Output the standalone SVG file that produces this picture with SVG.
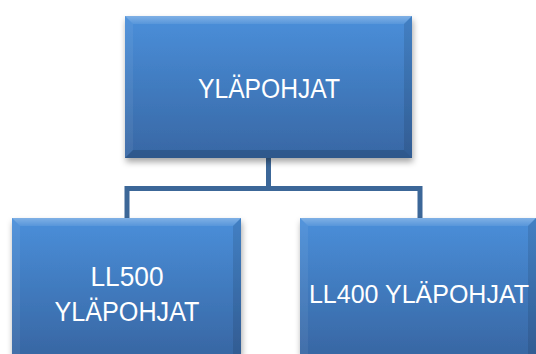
<svg xmlns="http://www.w3.org/2000/svg" width="536" height="354" viewBox="0 0 536 354">
  <style>
    .label { font-family: "Liberation Sans", Arial, sans-serif; font-size: 27px; fill: #ffffff; text-anchor: middle; }
    .label-wide { font-size: 25px; }
    .bev-top { fill: url(#bevTop); }
    .bev-left { fill: #ffffff; fill-opacity: 0.06; }
    .bev-right { fill: #000000; fill-opacity: 0.10; }
    .bev-bottom { fill: #000000; fill-opacity: 0.15; }
    .link { fill: none; stroke: #3c6798; stroke-width: 5; stroke-linejoin: miter; }
  </style>
  <defs>
    <linearGradient id="boxFill" x1="0" y1="0" x2="0" y2="1">
      <stop offset="0" stop-color="#4a8fda"/>
      <stop offset="1" stop-color="#3867a4"/>
    </linearGradient>
    <linearGradient id="bevTop" x1="0" y1="0" x2="0" y2="1">
      <stop offset="0" stop-color="#ffffff" stop-opacity="0.30"/>
      <stop offset="1" stop-color="#ffffff" stop-opacity="0.08"/>
    </linearGradient>
    <filter id="shadow" x="-10%" y="-10%" width="125%" height="130%">
      <feDropShadow dx="1" dy="4" stdDeviation="3" flood-color="#000000" flood-opacity="0.35"/>
    </filter>
  </defs>

  <!-- connectors -->
  <g id="connectors">
    <path class="link" d="M268.5,158 V188.5 M127,220 V188.5 H420 V220"/>
  </g>

  <!-- root node -->
  <g id="node-root">
    <rect x="125" y="16" width="287" height="142" fill="url(#boxFill)" filter="url(#shadow)"/>
    <polygon class="bev-top" points="125,16 412,16 404,24 133,24"/>
    <polygon class="bev-left" points="125,16 133,24 133,150 125,158"/>
    <polygon class="bev-right" points="412,16 412,158 404,150 404,24"/>
    <polygon class="bev-bottom" points="125,158 133,150 404,150 412,158"/>
    <text class="label" x="269" y="98" textLength="142" lengthAdjust="spacingAndGlyphs">YLÄPOHJAT</text>
  </g>

  <!-- left child -->
  <g id="node-ll500">
    <rect x="12" y="218" width="229" height="136" fill="url(#boxFill)" filter="url(#shadow)"/>
    <polygon class="bev-top" points="12,218 241,218 233,226 20,226"/>
    <polygon class="bev-left" points="12,218 20,226 20,354 12,354"/>
    <polygon class="bev-right" points="241,218 241,354 233,354 233,226"/>
    <text class="label" x="127" y="286" textLength="73" lengthAdjust="spacingAndGlyphs">LL500</text>
    <text class="label" x="127" y="321" textLength="145" lengthAdjust="spacingAndGlyphs">YLÄPOHJAT</text>
  </g>

  <!-- right child -->
  <g id="node-ll400">
    <rect x="300" y="218" width="236" height="136" fill="url(#boxFill)" filter="url(#shadow)"/>
    <polygon class="bev-top" points="300,218 536,218 528,226 308,226"/>
    <polygon class="bev-left" points="300,218 308,226 308,354 300,354"/>
    <polygon class="bev-right" points="536,218 536,354 528,354 528,226"/>
    <text class="label label-wide" x="419" y="303">LL400 YLÄPOHJAT</text>
  </g>
</svg>
